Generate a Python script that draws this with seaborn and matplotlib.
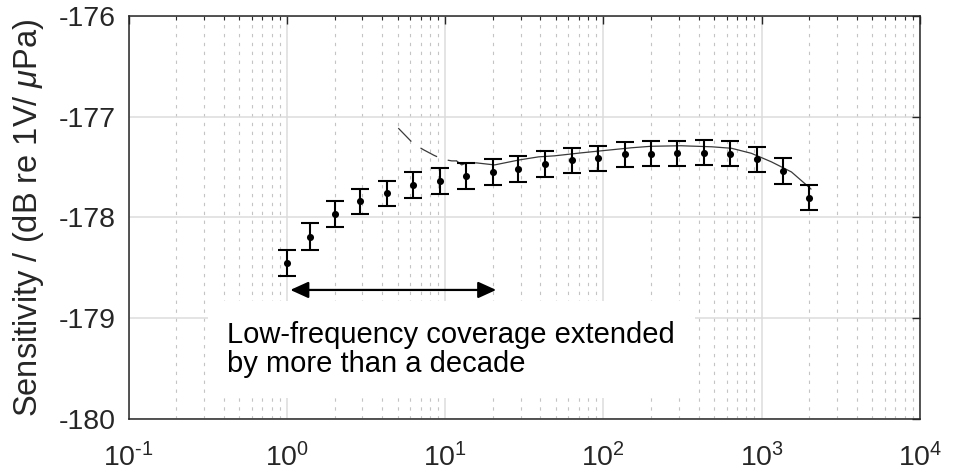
import numpy as np
import pandas as pd
import matplotlib
matplotlib.use("Agg")
import matplotlib.pyplot as plt
import seaborn as sns
from matplotlib.ticker import LogLocator, FuncFormatter, NullFormatter, FixedLocator

# ---- data ----
freq = [1, 1.4, 2, 2.9, 4.3, 6.3, 9.3, 13.6, 20, 29, 43, 63, 93, 136, 200, 290, 430, 630, 930, 1360, 2000]
sens = [-178.45, -178.19, -177.97, -177.84, -177.76, -177.68, -177.64, -177.59, -177.55, -177.52,
        -177.47, -177.435, -177.415, -177.375, -177.37, -177.365, -177.36, -177.37, -177.425, -177.54, -177.805]
err = [0.13, 0.13, 0.13, 0.125, 0.125, 0.125, 0.125, 0.125, 0.125, 0.125,
       0.125, 0.125, 0.125, 0.125, 0.125, 0.125, 0.125, 0.125, 0.125, 0.125, 0.125]

ref_freq = [11.8, 12.7, 13.6, 15.8, 20.5, 29.5, 38.9, 49, 72.7, 84, 130, 150, 200, 309, 482,
            645, 861, 1153, 1542, 1920, 2050]
ref_sens = [-177.44, -177.48, -177.46, -177.46, -177.48, -177.43, -177.40, -177.39, -177.36, -177.35,
            -177.32, -177.31, -177.295, -177.29, -177.30, -177.315, -177.365, -177.45, -177.55, -177.68, -177.72]

old_freq = [5.05, 6.3, 7.3, 8.5, 9.7, 11.0, 11.8]
old_sens = [-177.115, -177.27, -177.33, -177.385, -177.425, -177.44, -177.44]

yticks = [-180, -179, -178, -177, -176]
arrow_from = 1.05
arrow_to = 21
arrow_y = -178.72
note = "Low-frequency coverage extended\nby more than a decade"

# ---- style ----
sns.set_theme(style="white")
plt.rcParams["font.family"] = ["Liberation Sans", "DejaVu Sans"]
plt.rcParams["mathtext.fontset"] = "custom"
plt.rcParams["mathtext.rm"] = "Liberation Sans"
plt.rcParams["mathtext.it"] = "Liberation Sans:italic"
plt.rcParams["mathtext.default"] = "regular"
plt.rcParams["axes.unicode_minus"] = False

fig = plt.figure(figsize=(9.57, 4.70), dpi=100)
ax = fig.add_axes([0.1345, 0.1085, 0.9613 - 0.1345, 0.9666 - 0.1085])

df_pts = pd.DataFrame({"f": freq, "s": sens})
df_ref = pd.DataFrame({"f": ref_freq, "s": ref_sens})
df_old = pd.DataFrame({"f": old_freq, "s": old_sens})

ax.set_xscale("log")
ax.set_xlim(0.1, 1e4)
ax.set_ylim(-180, -176)

sns.lineplot(data=df_ref, x="f", y="s", ax=ax, sort=False, estimator=None,
             color="#3a3a3a", lw=0.9, zorder=3)
sns.lineplot(data=df_old, x="f", y="s", ax=ax, sort=False, estimator=None,
             color="#3a3a3a", lw=0.9, zorder=3)
ax.lines[-1].set_dashes((15, 9))

ax.errorbar(freq, sens, yerr=err, fmt="none", ecolor="black", elinewidth=1.5,
            capsize=6.2, capthick=1.5, zorder=4)
sns.scatterplot(data=df_pts, x="f", y="s", ax=ax, color="black", s=26,
                edgecolor="black", linewidth=0, zorder=5)

ax.annotate("", xy=(arrow_from, arrow_y), xytext=(arrow_to, arrow_y),
            arrowprops=dict(arrowstyle="<|-|>,head_length=1.1,head_width=0.5",
                            mutation_scale=10, lw=1.6, color="black",
                            shrinkA=0, shrinkB=0), zorder=6)

ax.text(0.42, -179.31, note, fontsize=21, color="black", ha="left", va="center",
        linespacing=1.08,
        bbox=dict(facecolor="white", edgecolor="none", pad=14), zorder=2.5)


def dec_fmt(v, pos):
    e = int(round(np.log10(v)))
    if e < 0:
        return r"$\mathregular{10^{\text{-}%d}}$" % (-e)
    return r"$\mathregular{10^{%d}}$" % e


# axes / ticks
ax.xaxis.set_major_locator(LogLocator(base=10, numticks=10))
ax.xaxis.set_minor_locator(LogLocator(base=10, subs=np.arange(2, 10), numticks=20))
ax.xaxis.set_major_formatter(FuncFormatter(dec_fmt))
ax.xaxis.set_minor_formatter(NullFormatter())
ax.yaxis.set_major_locator(FixedLocator(yticks))
ax.set_yticklabels([str(v) for v in yticks])

ax.set_axisbelow(True)
ax.grid(which="major", axis="both", color="#dcdcdc", lw=1.1, linestyle="-")
ax.grid(which="minor", axis="x", color="#c4c4c4", lw=0.8, linestyle=(0, (3, 5)))

ax.tick_params(which="major", direction="in", length=5.5, width=1.0, top=True, right=True,
               labelsize=20.5, colors="#262626", pad=9)
ax.tick_params(which="minor", direction="in", length=3, width=0.8, top=True, right=True,
               colors="#262626")
ax.tick_params(axis="x", which="major", pad=17)
for sp in ax.spines.values():
    sp.set_visible(True)
    sp.set_color("#262626")
    sp.set_linewidth(1.1)

ax.set_xlabel("")
ax.set_ylabel(r"Sensitivity / (dB re 1V/ $\mathit{\mu}$Pa)", fontsize=23.5, color="#262626")
ax.yaxis.set_label_coords(-0.104, 0.5)

fig.savefig("out.png", dpi=100)
